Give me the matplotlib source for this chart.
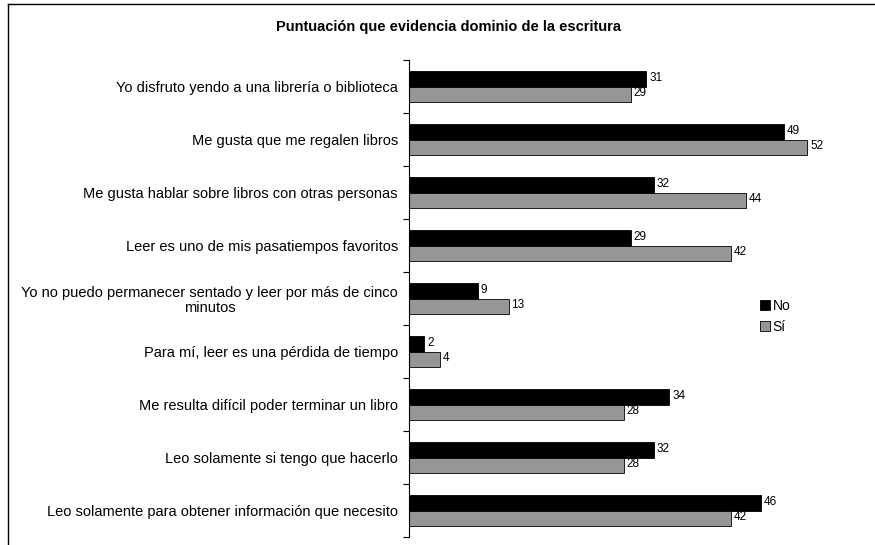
import matplotlib.pyplot as plt
from matplotlib.lines import Line2D

plt.rcParams['font.family'] = ['Liberation Sans', 'DejaVu Sans']

# ===== Data ===================================================================

title = "Puntuación que evidencia dominio de la escritura"
categories = [
    "Yo disfruto yendo a una librería o biblioteca",
    "Me gusta que me regalen libros",
    "Me gusta hablar sobre libros con otras personas",
    "Leer es uno de mis pasatiempos favoritos",
    "Yo no puedo permanecer sentado y leer por más de cinco\nminutos",
    "Para mí, leer es una pérdida de tiempo",
    "Me resulta difícil poder terminar un libro",
    "Leo solamente si tengo que hacerlo",
    "Leo solamente para obtener información que necesito",
]
valuesNo = [31, 49, 32, 29, 9, 2, 34, 32, 46]
valuesSi = [29, 52, 44, 42, 13, 4, 28, 28, 42]
seriesNames = ["No", "Sí"]

# ===== Plot ===================================================================

fig = plt.figure(figsize=(8.75, 5.45), dpi=100)
ax = fig.add_axes([409 / 875, 8 / 545, 429 / 875, 477 / 545])

n = len(categories)
barH = 0.29
ypos = list(range(n))
barsNo = ax.barh([y - barH / 2 for y in ypos], valuesNo, height=barH,
                 color="black", edgecolor="black", linewidth=0.6,
                 label=seriesNames[0])
barsSi = ax.barh([y + barH / 2 for y in ypos], valuesSi, height=barH,
                 color="#969696", edgecolor="black", linewidth=0.6,
                 label=seriesNames[1])

# Value labels just past the end of each bar
for bars in (barsNo, barsSi):
    for b in bars:
        ax.text(b.get_width() + 0.35, b.get_y() + b.get_height() / 2 - 0.02,
                f"{int(b.get_width())}", va="center", ha="left", fontsize=8.5)

ax.set_ylim(n - 0.5, -0.5)
ax.set_xlim(0, 56)

# Category labels between boundary ticks
ax.set_yticks([y - 0.5 for y in range(n + 1)])
ax.set_yticklabels([])
ax.set_yticks(ypos, minor=True)
ax.set_yticklabels(categories, minor=True, fontsize=10.5,
                   multialignment="center", linespacing=1.1)
ax.tick_params(axis="y", which="minor", length=0, pad=8)
ax.tick_params(axis="y", which="major", length=4, width=0.8, direction="out")

ax.set_xticks([])
for s in ["top", "right", "bottom"]:
    ax.spines[s].set_visible(False)
ax.spines["left"].set_linewidth(0.8)

ax.legend(loc="center left", bbox_to_anchor=(0.818, 0.463), frameon=False,
          fontsize=10, handlelength=0.7, handleheight=0.7, handletextpad=0.2,
          labelspacing=0.5, borderpad=0, borderaxespad=0)

fig.text(448 / 875, 1 - 27 / 545, title, ha="center", va="center",
         fontsize=10.5, fontweight="bold")

# Outer frame of the chart area
fig.add_artist(Line2D([8 / 875, 8 / 875], [0, 1 - 4 / 545], color="black",
                      linewidth=1.0, transform=fig.transFigure))
fig.add_artist(Line2D([8 / 875, 1], [1 - 4 / 545, 1 - 4 / 545],
                      color="black", linewidth=1.0,
                      transform=fig.transFigure))

fig.savefig("out.png", dpi=100)
